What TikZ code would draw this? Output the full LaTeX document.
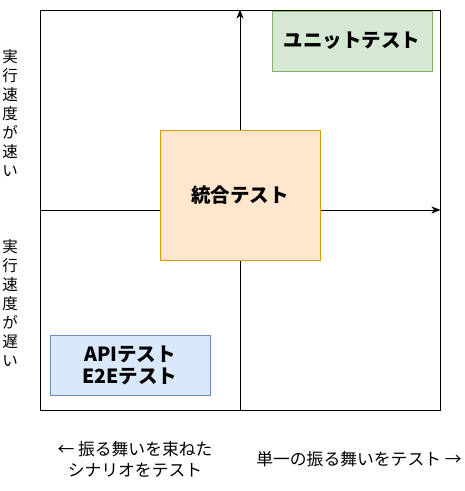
\documentclass[tikz,border=0pt]{standalone}
\usepackage{fontspec}
\setmainfont{Noto Sans CJK JP}
\usetikzlibrary{arrows.meta}
\definecolor{gfill}{HTML}{D5E8D4}
\definecolor{gline}{HTML}{82B366}
\definecolor{ofill}{HTML}{FFE6CC}
\definecolor{oline}{HTML}{D79B00}
\definecolor{bfill}{HTML}{DAE8FC}
\definecolor{bline}{HTML}{6C8EBF}
\tikzset{
  box/.style={draw, line width=1pt, inner sep=0pt, align=center, font=\bfseries\fontsize{19.5}{22}\selectfont},
  lbl/.style={inner sep=0pt, align=center, font=\fontsize{16.8}{21}\selectfont},
  vlbl/.style={inner sep=0pt, align=center, font=\fontsize{15.5}{19}\selectfont},
  axis/.style={line width=1pt, -{Stealth[length=9pt,width=7pt,inset=2.5pt]}},
}
\begin{document}
\begin{tikzpicture}[x=1pt,y=-1pt]
\useasboundingbox (0,0) rectangle (465,491);
\node[draw, line width=1pt, minimum width=400pt, minimum height=400pt, inner sep=0pt] (frame) at (240,210) {};
\draw[axis] (frame.south) -- (frame.north);
\draw[axis] (frame.west) -- (frame.east);
\node[box, fill=gfill, draw=gline, minimum width=160pt, minimum height=60pt] (unit) at (352,41) {ユニットテスト};
\node[box, fill=ofill, draw=oline, minimum width=160pt, minimum height=130pt] (integ) at (240,195) {統合テスト};
\node[box, fill=bfill, draw=bline, minimum width=160pt, minimum height=60pt] (api) at (130,365) {APIテスト\\E2Eテスト};
\node[vlbl] (fast) at (10,113) {実\\行\\速\\度\\が\\速\\い};
\node[vlbl] (slow) at (10,303) {実\\行\\速\\度\\が\\遅\\い};
\node[lbl] (scen) at (135,459) {← 振る舞いを束ねた\\シナリオをテスト};
\node[lbl] (single) at (359,459) {単一の振る舞いをテスト →};
\end{tikzpicture}
\end{document}
